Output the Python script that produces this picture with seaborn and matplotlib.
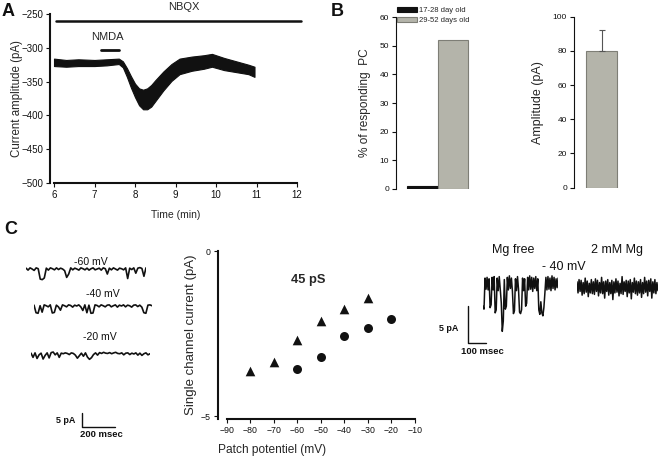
import numpy as np
import pandas as pd
import matplotlib
matplotlib.use("Agg")
import matplotlib.pyplot as plt
import seaborn as sns

# ---- data ----
# A: NMDA response under NBQX (envelope of the noisy trace, pA)
a_time = [6.0, 6.3, 6.6, 7.0, 7.3, 7.6, 7.7, 7.8, 7.9, 8.0, 8.1, 8.2, 8.3, 8.4,
          8.5, 8.7, 8.9, 9.1, 9.4, 9.7, 9.9, 10.2, 10.5, 10.8, 10.95]
a_upper = [-316, -318, -317, -318, -317, -316, -320, -330, -342, -353, -360, -362, -360, -355,
           -348, -335, -324, -316, -313, -311, -309, -315, -320, -325, -328]
a_lower = [-327, -328, -327, -327, -326, -324, -329, -343, -359, -373, -385, -391, -391, -387,
           -379, -363, -349, -339, -334, -331, -328, -333, -336, -339, -343]
nbqx_span = [6.05, 12.1]
nmda_span = [7.15, 7.6]

# B: responding Purkinje cells and amplitude
age_groups = ["17-28 day old", "29-52 days old"]
pct_responding = [1, 52]
amp_mean = [80]
amp_err = [12]

# C: single channel I-V
iv_tri_v = [-80, -70, -60, -50, -40, -30]
iv_tri_i = [-3.64, -3.37, -2.70, -2.11, -1.76, -1.42]
iv_dot_v = [-60, -50, -40, -30, -20]
iv_dot_i = [-3.58, -3.22, -2.57, -2.34, -2.05]

# C: single channel traces (pA, sampled evenly)
tr_m60 = [0.3, -0.4, 0.4, 0, -0.5, 0.4, 0.1, -3.6, -3.8, -3.2, 0.3, -0.4, 0.4, 0.1, -0.3,
          0.4, -0.2, 0.3, 0, -0.6, -3.0, -1.8, 0.4, -0.3, 0.3, 0, -0.4, 0.4, 0.1, -0.3,
          0.3, -0.4, 0.1, 0.4, -0.3, 0, 0.3, -0.4, 0.4, 0.1, -1.8, 0.3, -0.3, 0.4, 0,
          -0.4, 0.3, 0.1, -0.3, 0.4, -3.4, 0.3, -0.2, 0.4, -1.5, 0.3, 0.5, 0.2, -2.6, 0.4]
tr_m40 = [0.3, -2.4, -2.6, 0.1, -2.2, 0.4, 0.1, -0.3, 0.4, -2.5, -2.3, 0.3, -0.3, -1.5, 0.4,
          0.1, -0.3, 0.4, 0.2, -0.4, 0.3, 0, 0.4, -0.3, -1.6, 0.4, -2.4, 0.3, -2.6, -2.5,
          0.4, 0.2, -0.3, 0.4, 0.1, -0.3, 0.3, 0.4, -0.3, 0.1, 0.4, -0.4, 0.3, 0, 0.4,
          -0.3, 0.3, 0.1, -0.4, 0.3, 0.4, -0.2, 0.3, -0.4, -2.4, -2.6, 0.3, 0.4, 0.1]
tr_m20 = [0.3, -1.2, 0.4, -1.6, -0.3, 0.3, -1.8, -0.5, 0.4, -1.4, 0.5, 0.7, -0.3, 0.4, -1.2,
          0.3, 0.1, 0.4, 0.2, -0.2, 0.4, 0.2, -0.4, -1.5, -0.6, 0.3, -0.8, 0.4, -1.1, -1.9,
          -1.3, -0.2, 0.4, -0.4, 0.5, 0.2, 0.6, 0.3, 0.2, 0.5, 0.1, 0.4, 0.6, 0.2, 0.1,
          0.4, -0.3, 0.3, 0.4, -0.2, 0.3, 0, 0.4, -0.4, 0.3, -0.5, 0.1, 0.4, -0.3, 0.1]
tr_mgfree = [-3.0, -3.4, 0.8, -0.7, 0.9, -0.8, 0.7, -3.2, -2.8, 0.9, -0.8, 1.0, -3.9, -3.5, 0.8,
             -0.9, 1.0, -0.7, -2.5, -6.4, -5.0, 0.6, -3.4, -3.0, 0.9, -0.8, 1.1, -0.6, 0.8, -1.0,
             -4.0, -3.6, 0.7, -0.9, 1.0, -0.7, -3.8, -4.0, -3.5, 0.8, -0.9, 0.7, -3.0, -2.6, 0.9,
             -0.8, 1.1, -0.7, 0.9, -1.0, 0.8, -0.6, 1.0, -0.9, 0.7, -3.5, -4.1, -2.4, -3.9, -4.3,
             -3.2, -1.2, 0.9, -0.8, 1.0, -0.7, 0.8, -0.9, 1.1, -0.6, 0.9, -0.8, 0.7, -0.5, 0.8]
tr_mg2 = [0.7, -0.8, 1.0, -0.6, 0.9, -1.1, 0.6, -0.9, 1.2, -0.7, 0.8, -1.3, 0.5, -0.8, 1.0,
          -0.9, 0.7, -1.0, 1.1, -0.6, 0.9, -1.2, 0.6, -0.8, 1.3, -0.9, 0.7, -1.5, 0.8, -0.6,
          1.0, -1.1, 0.6, -0.9, 0.9, -1.7, 0.7, -0.8, 1.1, -0.7, 0.8, -1.2, 0.5, -0.9, 1.4,
          -1.0, 0.7, -0.6, 0.9, -1.3, 0.8, -0.8, 1.0, -1.6, 0.6, -0.7, 1.2, -0.9, 0.8, -1.1,
          0.7, -0.8, 1.0, -1.4, 0.6, -0.9, 1.3, -0.7, 0.8, -1.2, 0.9, -0.6, 1.1, -1.5, 0.7,
          -0.8, 1.0, -0.9, 0.6, -0.5]

# ---- figure setup ----
W, H = 661, 461
sns.set_style("ticks")
plt.rcParams["font.family"] = ["Liberation Sans", "DejaVu Sans"]
INK = "#111111"
GRAY = "#b6b6a8"
GRAY_EDGE = "#7e7e76"

fig = plt.figure(figsize=(W / 100, H / 100), dpi=100)


def px_axes(x0, y0, x1, y1):
    # axes from pixel box (top-left origin)
    return fig.add_axes([x0 / W, 1 - y1 / H, (x1 - x0) / W, (y1 - y0) / H])


def ftext(x, y, s, **kw):
    kw.setdefault("ha", "center")
    kw.setdefault("va", "center")
    kw.setdefault("color", INK)
    fig.text(x / W, 1 - y / H, s, **kw)


def style_axes(ax, lw, size=6):
    for side in ["top", "right"]:
        ax.spines[side].set_visible(False)
    for side in ["left", "bottom"]:
        ax.spines[side].set_linewidth(lw)
        ax.spines[side].set_color(INK)
    ax.tick_params(length=3, width=0.8, labelsize=size, colors=INK, pad=2)
    ax.set_facecolor("none")


# ---- panel A ----
axA = px_axes(50, 14, 302, 183)
axA.fill_between(a_time, a_lower, a_upper, color=INK, lw=0.8, edgecolor=INK)
axA.set_xlim(5.901, 12.123)
axA.set_ylim(-500, -250)
axA.set_xticks(range(6, 13))
axA.set_yticks(range(-500, -249, 50))
style_axes(axA, 1.5, size=7)
axA.spines["bottom"].set_bounds(6, 12)
axA.set_ylabel("Current amplitude (pA)", fontsize=8.3, labelpad=-1)
axA.set_xlabel("Time (min)", fontsize=7.5, labelpad=7)
axA.plot(nbqx_span, [-260, -260], color=INK, lw=1.8, clip_on=False)
axA.plot(nmda_span, [-303, -303], color=INK, lw=2, clip_on=False)
axA.text(9.2, -239.5, "NBQX", fontsize=8, ha="center", va="center", clip_on=False)
axA.text(7.31, -284, "NMDA", fontsize=8, ha="center", va="center")

# ---- panel B, left ----
axB1 = px_axes(396, 17.3, 490, 188.7)
dfB = pd.DataFrame({"age": age_groups, "pct": pct_responding})
sns.barplot(data=dfB, x="age", y="pct", hue="age", palette=[INK, GRAY], width=1,
            ax=axB1, legend=True, linewidth=0.8)
for patch, ec in zip(axB1.patches, [INK, GRAY_EDGE]):
    patch.set_edgecolor(ec)
axB1.set_xlim(-0.855, 2.2)
axB1.set_ylim(0, 60)
axB1.set_yticks(range(0, 61, 10))
style_axes(axB1, 0.8)
axB1.spines["bottom"].set_visible(False)
axB1.set_xticks([])
axB1.set_xlabel("")
axB1.set_ylabel("% of responding  PC", fontsize=8.6, labelpad=6)
h, l = axB1.get_legend_handles_labels()
for hh, ec in zip(h, [INK, GRAY_EDGE]):
    hh.set_edgecolor(ec)
axB1.legend(h, l, loc="upper left", bbox_to_anchor=(397 / W, 1 - 7 / H),
            bbox_transform=fig.transFigure, frameon=False, fontsize=5.5,
            handlelength=2.6, handleheight=0.6, labelspacing=0.35,
            handletextpad=0.3, borderpad=0, borderaxespad=0)

# ---- panel B, right ----
axB2 = px_axes(574, 16.7, 640, 187.7)
sns.barplot(x=["all"], y=amp_mean, color=GRAY, width=0.8, ax=axB2,
            edgecolor=GRAY_EDGE, linewidth=0.8)
axB2.errorbar([0], amp_mean, yerr=[[0], amp_err], fmt="none", ecolor="#555555",
              elinewidth=0.8, capsize=2, capthick=0.8)
axB2.set_xlim(-0.71, 0.99)
axB2.set_ylim(0, 100)
axB2.set_yticks(range(0, 101, 20))
style_axes(axB2, 0.8)
axB2.spines["bottom"].set_visible(False)
axB2.set_xticks([])
axB2.set_ylabel("Amplitude (pA)", fontsize=9, labelpad=6)

# ---- panel C, I-V ----
axC = px_axes(217.7, 251, 415, 419.3)
sns.scatterplot(x=iv_tri_v, y=iv_tri_i, marker="^", color=INK, s=48, ax=axC,
                edgecolor=INK, linewidth=0)
sns.scatterplot(x=iv_dot_v, y=iv_dot_i, marker="o", color=INK, s=42, ax=axC,
                edgecolor=INK, linewidth=0)
axC.set_xlim(-93.8, -10)
axC.set_ylim(-5.1, 0)
axC.set_xticks(range(-90, -9, 10))
axC.set_yticks([-5, 0])
style_axes(axC, 1.5, size=6.3)
axC.spines["bottom"].set_bounds(-90, -10)
axC.set_ylabel("Single channel current (pA)", fontsize=9.5, labelpad=3)
axC.set_xlabel("Patch potentiel (mV)", fontsize=8.6, loc="left", labelpad=6)
axC.text(-55.4, -0.88, "45 pS", fontsize=9.3, fontweight="bold", ha="center", va="center")


# ---- panel C, traces ----
def trace(vals, x0, y_base, dur, ms_px, px_pa, lw):
    t = np.linspace(0, dur, len(vals))
    up, down = 3, 8
    ax = px_axes(x0, y_base - up * px_pa, x0 + dur / ms_px, y_base + down * px_pa)
    sns.lineplot(x=t, y=vals, color=INK, lw=lw, ax=ax, estimator=None)
    ax.set_xlim(0, dur)
    ax.set_ylim(-down, up)
    ax.axis("off")
    return ax


def scalebar(x0, y0, x1, y1, ms, pa):
    ax = px_axes(x0, y0, x1, y1)
    ax.plot([0, 0, ms], [pa, 0, 0], color=INK, lw=1, clip_on=False)
    ax.set_xlim(0, ms)
    ax.set_ylim(0, pa)
    ax.axis("off")


L_MS, L_PA = 6.06, 2.8
trace(tr_m60, 26, 269, 727, L_MS, L_PA, 1.2)
trace(tr_m40, 34, 306, 715, L_MS, L_PA, 1.2)
trace(tr_m20, 31, 354, 721, L_MS, L_PA, 1.2)
ftext(91, 262, "-60 mV", fontsize=7.6)
ftext(103, 294, "-40 mV", fontsize=7.6)
ftext(100, 337, "-20 mV", fontsize=7.6)
scalebar(82, 413, 115, 427, 200, 5)
ftext(75, 420, "5 pA", fontsize=6.5, fontweight="bold", ha="right")
ftext(101, 434, "200 msec", fontsize=6.8, fontweight="bold")

R_MS, R_PA = 5.46, 7.4
trace(tr_mgfree, 483, 284, 410, R_MS, R_PA, 1.1)
trace(tr_mg2, 577, 287, 442, R_MS, R_PA, 1.1)
ftext(513, 250, "Mg free", fontsize=9)
ftext(617, 250, "2 mM Mg", fontsize=9)
ftext(564, 267, "- 40 mV", fontsize=9)
scalebar(467.7, 306, 486, 343, 100, 5)
ftext(458, 328, "5 pA", fontsize=6.5, fontweight="bold", ha="right")
ftext(482, 351, "100 msec", fontsize=6.8, fontweight="bold")

# ---- panel letters ----
ftext(8, 12, "A", fontsize=13, fontweight="bold")
ftext(337, 12, "B", fontsize=13, fontweight="bold")
ftext(11, 229, "C", fontsize=13, fontweight="bold")

fig.savefig("out.png", dpi=100)
